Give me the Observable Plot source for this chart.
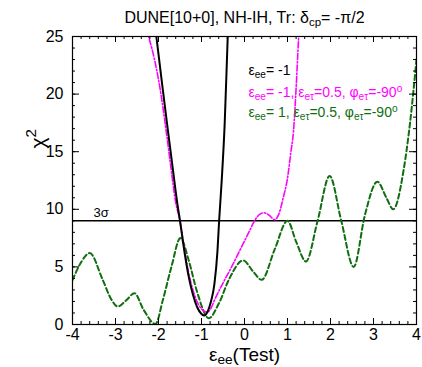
<!DOCTYPE html>
<html><head><meta charset="utf-8">
<script src="https://cdn.jsdelivr.net/npm/d3@7"></script>
<script src="https://cdn.jsdelivr.net/npm/@observablehq/plot@0.6"></script>
<style>html,body{margin:0;padding:0;background:#fff}svg{display:block}</style>
</head><body><div id="chart"></div>
<script>
// ---- data ----
const xTicks = [-4, -3, -2, -1, 0, 1, 2, 3, 4];
const yTicks = [0, 5, 10, 15, 20, 25];
const threeSigma = 9;

// eps_ee = -1 (black, solid)
const blackX = [-2.15, -2.05, -1.92, -1.8, -1.65, -1.57, -1.5, -1.4, -1.3, -1.2, -1.1, -1.0, -0.93, -0.86, -0.78, -0.7, -0.63, -0.59, -0.53, -0.46, -0.39, -0.35];
const blackY = [28, 25, 21.0, 17.4, 13.0, 10.7, 9.0, 6.4, 4.2, 2.6, 1.5, 0.92, 0.78, 1.1, 2.0, 3.5, 6.3, 9.0, 12.5, 17.5, 25, 29];

// eps_ee = -1, eps_et = 0.5, phi = -90 (magenta, dash-dot)
const magentaX = [-2.35, -2.23, -2.13, -2.04, -1.96, -1.88, -1.8, -1.7, -1.6, -1.5, -1.4, -1.3, -1.2, -1.1, -1.0, -0.87, -0.78, -0.7, -0.5, -0.3, -0.1, 0.1, 0.25, 0.35, 0.45, 0.57, 0.7, 0.8, 0.9, 1.0, 1.08, 1.14, 1.2, 1.26, 1.3];
const magentaY = [26.7, 25, 23.6, 22.05, 20.4, 18.4, 16.2, 13.3, 10.6, 9.0, 6.6, 4.5, 3.0, 1.95, 1.35, 1.07, 1.4, 2.1, 3.6, 5.0, 6.5, 8.0, 9.1, 9.55, 9.7, 9.5, 9.1, 9.6, 11.0, 12.7, 15.0, 16.8, 20.5, 25, 27.5];

// eps_ee = 1, eps_et = 0.5, phi = -90 (green, dashed)
const greenX = [-4, -3.8, -3.6, -3.3, -3.1, -2.95, -2.75, -2.56, -2.35, -2.07, -1.9, -1.7, -1.49, -1.3, -1.1, -0.83, -0.6, -0.35, -0.03, 0.2, 0.4, 0.7, 1.0, 1.2, 1.43, 1.7, 1.98, 2.25, 2.54, 2.8, 3.09, 3.3, 3.46, 3.7, 3.85, 4.0];
const greenY = [3.85, 5.4, 6.2, 3.9, 2.2, 1.56, 2.1, 2.72, 1.3, 0.05, 2.1, 5.0, 7.5, 5.6, 2.8, 0.55, 1.8, 4.0, 5.56, 4.6, 3.88, 6.5, 9.0, 7.2, 5.47, 9.0, 12.9, 9.0, 5.0, 9.5, 12.4, 11.0, 10.0, 13.4, 17.5, 23];

const titleText = "DUNE[10+0], NH-IH, Tr: δ_{cp}= -π/2";
const yLabel = "χ^{2}";
const xLabel = "ε_{ee}(Test)";
const sigmaLabel = "3σ";
const legendLabels = ["ε_{ee}= -1", "ε_{ee}= -1, ε_{eτ}=0.5, φ_{eτ}=-90^{o}", "ε_{ee}= 1, ε_{eτ}=0.5, φ_{eτ}=-90^{o}"];

// ---- colours / layout ----
const MAG = "#ff00ff", GRN = "#106d10";
const W = 422, H = 367, mL = 72, mR = 6, mT = 36, mB = 43;
const fw = W - mL - mR, fh = H - mT - mB;
const rows = (xs, ys) => xs.map((x, i) => ({x, y: ys[i]}));
const xMinor = d3.range(-4, 4.001, 0.2).map(v => +v.toFixed(1));
const yMinor = d3.range(0, 25.001, 1);
const id = d => d;

const plot = Plot.plot({
  width: W, height: H,
  marginLeft: mL, marginRight: mR, marginTop: mT, marginBottom: mB,
  style: {fontFamily: "'Liberation Sans', Arial, Helvetica, sans-serif", background: "white", color: "black"},
  x: {domain: [-4, 4]},
  y: {domain: [0, 25]},
  marks: [
    Plot.ruleY([threeSigma], {y: id, stroke: "black", strokeWidth: 1.5}),
    Plot.line(rows(greenX, greenY), {x: "x", y: "y", stroke: GRN, strokeWidth: 2, strokeDasharray: "5,3", curve: "monotone-x", clip: true}),
    Plot.line(rows(magentaX, magentaY), {x: "x", y: "y", stroke: MAG, strokeWidth: 1.6, strokeDasharray: "6,2,1.5,2", curve: "monotone-x", clip: true}),
    Plot.line(rows(blackX, blackY), {x: "x", y: "y", stroke: "black", strokeWidth: 2, curve: "monotone-x", clip: true}),
    // inward ticks
    Plot.tickX(xMinor, {x: id, insetTop: fh - 3, stroke: "black"}),
    Plot.tickX(xMinor, {x: id, insetBottom: fh - 3, stroke: "black"}),
    Plot.tickX(xTicks, {x: id, insetTop: fh - 6, stroke: "black"}),
    Plot.tickX(xTicks, {x: id, insetBottom: fh - 6, stroke: "black"}),
    Plot.tickY(yMinor, {y: id, insetRight: fw - 3, stroke: "black"}),
    Plot.tickY(yMinor, {y: id, insetLeft: fw - 3, stroke: "black"}),
    Plot.tickY(yTicks, {y: id, insetRight: fw - 7, stroke: "black"}),
    Plot.tickY(yTicks, {y: id, insetLeft: fw - 7, stroke: "black"}),
    Plot.frame({stroke: "black", strokeWidth: 1.2}),
    Plot.axisX({ticks: xTicks, tickSize: 0, tickPadding: 4, fontSize: 16, tickFormat: d => String(d), label: null}),
    Plot.axisY({ticks: yTicks, tickSize: 0, tickPadding: 9, fontSize: 16, tickFormat: d => String(d), label: null}),
    // texts
    Plot.text([titleText], {text: id, frameAnchor: "top", dy: -19, fontSize: 16, lineAnchor: "middle"}),
    Plot.text([yLabel], {text: id, frameAnchor: "left", dx: -34, dy: -32, rotate: -90, fontSize: 21, lineAnchor: "middle"}),
    Plot.text([xLabel], {text: id, frameAnchor: "bottom", dy: 30, fontSize: 19, lineAnchor: "middle"}),
    Plot.text([sigmaLabel], {text: id, frameAnchor: "top-left", dx: 21, dy: 176, fontSize: 13, textAnchor: "start", lineAnchor: "middle"}),
    Plot.text([legendLabels[0]], {text: id, frameAnchor: "top-left", dx: 176, dy: 34.5, fontSize: 14, textAnchor: "start", lineAnchor: "middle", fill: "black"}),
    Plot.text([legendLabels[1]], {text: id, frameAnchor: "top-left", dx: 176, dy: 56.5, fontSize: 14, textAnchor: "start", lineAnchor: "middle", fill: MAG}),
    Plot.text([legendLabels[2]], {text: id, frameAnchor: "top-left", dx: 176, dy: 76.5, fontSize: 14, textAnchor: "start", lineAnchor: "middle", fill: GRN})
  ]
});
document.getElementById("chart").appendChild(plot);

// turn _{..} and ^{..} markup into real sub/superscript tspans
const NS = "http://www.w3.org/2000/svg";
plot.querySelectorAll("text").forEach(t => {
  const s = t.textContent;
  if (!/[_^]\{/.test(s)) return;
  const fs = parseFloat(getComputedStyle(t).fontSize) || 14;
  t.textContent = "";
  const re = /([_^])\{([^}]*)\}/g;
  let last = 0, m, pending = 0;
  const add = (str, dy, size) => {
    const ts = document.createElementNS(NS, "tspan");
    ts.textContent = str;
    if (dy) ts.setAttribute("dy", dy);
    if (size) ts.setAttribute("font-size", size);
    t.appendChild(ts);
  };
  while ((m = re.exec(s))) {
    if (m.index > last) { add(s.slice(last, m.index), pending); pending = 0; }
    const shift = m[1] === "_" ? fs * 0.2 : -fs * 0.42;
    add(m[2], shift + pending, fs * 0.72);
    pending = -shift;
    last = re.lastIndex;
  }
  if (last < s.length) add(s.slice(last), pending);
});
</script>
</body></html>
